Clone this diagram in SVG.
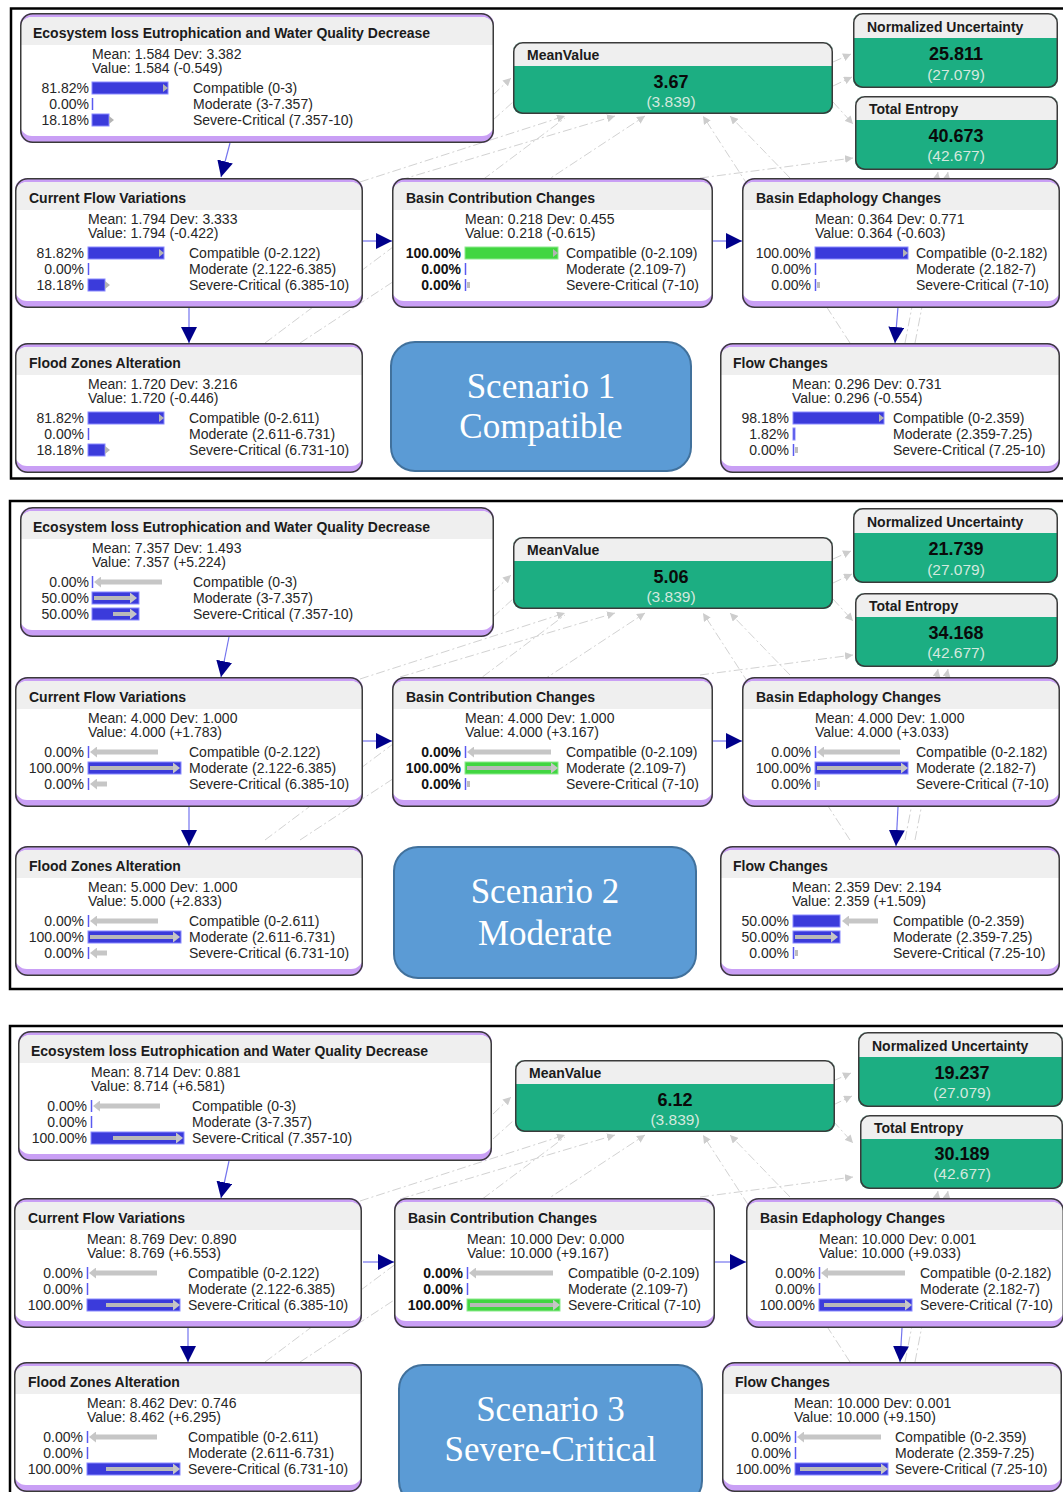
<svg xmlns="http://www.w3.org/2000/svg" xmlns:xlink="http://www.w3.org/1999/xlink" width="1063" height="1492" viewBox="0 0 1063 1492">
<style>
.t{font:bold 14px "Liberation Sans",Arial,sans-serif;fill:#1b1b1b}
.b{font:14px "Liberation Sans",Arial,sans-serif;fill:#262626}
.p{font:14px "Liberation Sans",Arial,sans-serif;fill:#262626;text-anchor:end}
.pb{font:bold 14px "Liberation Sans",Arial,sans-serif;fill:#111;text-anchor:end}
.v{font:bold 18px "Liberation Sans",Arial,sans-serif;fill:#0a0a0a;text-anchor:middle}
.pv{font:15.5px "Liberation Sans",Arial,sans-serif;fill:#d4e9df;text-anchor:middle}
.sc{font:35px "Liberation Serif","Times New Roman",serif;fill:#fff;text-anchor:middle}
.lv{fill:#c99ff5}
.hd{fill:#efefef}
.wh{fill:#fff}
.ol{fill:none;stroke:#3a3a3a;stroke-width:1.5}
.gn{fill:#1cae82}
.bb{fill:#3b3bdb;stroke:#8a8aff;stroke-width:1}
.gb{fill:#41d641;stroke:#8eea8e;stroke-width:1}
.z{stroke:#5a5af0;stroke-width:1.5}
.ga{stroke:#c6c6c6;stroke-width:5;marker-end:url(#gh)}
.gi{stroke:#b9b9b9;stroke-width:4;marker-end:url(#gh)}
.gm{fill:#b4b4b4}
.tk{fill:#bdbdbd}
.bg{fill:none;stroke:#d2d2d2;stroke-width:1;stroke-dasharray:9 3 2 3;marker-end:url(#sh)}
.bl{fill:none;stroke:#7474ee;stroke-width:1.2;marker-end:url(#ah)}
.fr{fill:none;stroke:#000;stroke-width:2.5}
.scb{fill:#5b9bd5;stroke:#41719c;stroke-width:2}
</style>
<defs>
<marker id="ah" markerUnits="userSpaceOnUse" markerWidth="16" markerHeight="16" refX="16" refY="8" orient="auto"><path d="M0,0 L16,8 L0,16 Z" fill="#00008b"/></marker>
<marker id="gh" markerUnits="userSpaceOnUse" markerWidth="7" markerHeight="11" refX="0" refY="5.5" orient="auto"><path d="M0,0 L7,5.5 L0,11 Z" fill="#c6c6c6"/></marker>
<marker id="sh" markerUnits="userSpaceOnUse" markerWidth="8" markerHeight="8" refX="8" refY="4" orient="auto"><path d="M0,0 L8,4 L0,8 Z" fill="#cdcdcd"/></marker>
<g id="fEco"><rect width="474" height="130" rx="12" class="lv"/><rect y="4" width="474" height="119" rx="12" class="wh"/><path d="M0,16 A12,12 0 0 1 12,4 H462 A12,12 0 0 1 474,16 V32 H0 Z" class="hd"/><rect x="0.75" y="0.75" width="472.5" height="128.5" rx="12" class="ol"/></g>
<g id="fCF"><rect width="348" height="130" rx="12" class="lv"/><rect y="4" width="348" height="119" rx="12" class="wh"/><path d="M0,16 A12,12 0 0 1 12,4 H336 A12,12 0 0 1 348,16 V32 H0 Z" class="hd"/><rect x="0.75" y="0.75" width="346.5" height="128.5" rx="12" class="ol"/></g>
<g id="fBC"><rect width="321" height="130" rx="12" class="lv"/><rect y="4" width="321" height="119" rx="12" class="wh"/><path d="M0,16 A12,12 0 0 1 12,4 H309 A12,12 0 0 1 321,16 V32 H0 Z" class="hd"/><rect x="0.75" y="0.75" width="319.5" height="128.5" rx="12" class="ol"/></g>
<g id="fBE"><rect width="318" height="130" rx="12" class="lv"/><rect y="4" width="318" height="119" rx="12" class="wh"/><path d="M0,16 A12,12 0 0 1 12,4 H306 A12,12 0 0 1 318,16 V32 H0 Z" class="hd"/><rect x="0.75" y="0.75" width="316.5" height="128.5" rx="12" class="ol"/></g>
<g id="fFC"><rect width="340" height="130" rx="12" class="lv"/><rect y="4" width="340" height="119" rx="12" class="wh"/><path d="M0,16 A12,12 0 0 1 12,4 H328 A12,12 0 0 1 340,16 V32 H0 Z" class="hd"/><rect x="0.75" y="0.75" width="338.5" height="128.5" rx="12" class="ol"/></g>
<g id="fMV"><rect width="320" height="72" rx="9" class="gn"/><path d="M0,9 A9,9 0 0 1 9,0 H311 A9,9 0 0 1 320,9 V24 H0 Z" class="hd"/><rect x="0.75" y="0.75" width="318.5" height="70.5" rx="9" class="ol"/></g>
<g id="fNU"><rect width="205" height="75" rx="9" class="gn"/><path d="M0,9 A9,9 0 0 1 9,0 H196 A9,9 0 0 1 205,9 V25 H0 Z" class="hd"/><rect x="0.75" y="0.75" width="203.5" height="73.5" rx="9" class="ol"/></g>
<g id="fTE"><rect width="203" height="74" rx="9" class="gn"/><path d="M0,9 A9,9 0 0 1 9,0 H194 A9,9 0 0 1 203,9 V24 H0 Z" class="hd"/><rect x="0.75" y="0.75" width="201.5" height="72.5" rx="9" class="ol"/></g>
<g id="bgset">
<path class="bg" d="M493,95 L511,78"/>
<path class="bg" d="M493,120 L513,102" style="marker-end:none"/>
<path class="bg" d="M360,182 L565,116"/>
<path class="bg" d="M400,180 L615,116"/>
<path class="bg" d="M300,343 L645,116"/>
<path class="bg" d="M265,343 L565,118" style="marker-end:none"/>
<path class="bg" d="M790,178 L730,116"/>
<path class="bg" d="M850,343 L703,116"/>
<path class="bg" d="M833,62 L851,54"/>
<path class="bg" d="M833,86 L852,77"/>
<path class="bg" d="M833,102 L853,124"/>
<path class="bg" d="M700,178 L853,158"/>
<path class="bg" d="M905,343 L938,172"/>
<path class="bg" d="M915,343 L948,172"/>
</g>
</defs>

<g id="frames">
<rect class="fr" x="11" y="8.5" width="1070" height="470"/>
<rect class="fr" x="10" y="501" width="1070" height="488"/>
<rect class="fr" x="10" y="1026" width="1070" height="480"/>
</g>

<g id="connectors">
<use href="#bgset"/>
<use href="#bgset" transform="translate(0,497)"/>
<use href="#bgset" transform="translate(0,1019)"/>
<path class="bl" d="M230,143 L221,177"/>
<path class="bl" d="M363,241 L392,241"/>
<path class="bl" d="M713,241 L742,241"/>
<path class="bl" d="M189,307 L189,343"/>
<path class="bl" d="M898,307 L895,343"/>
<path class="bl" d="M229,637 L221,677"/>
<path class="bl" d="M363,741 L392,741"/>
<path class="bl" d="M713,741 L742,741"/>
<path class="bl" d="M189,807 L189,846"/>
<path class="bl" d="M898,807 L896,846"/>
<path class="bl" d="M229,1161 L221,1198"/>
<path class="bl" d="M363,1262 L394,1262"/>
<path class="bl" d="M715,1262 L746,1262"/>
<path class="bl" d="M188,1328 L188,1362"/>
<path class="bl" d="M902,1328 L900,1362"/>
</g>

<!-- ============ SCENARIO 1 ============ -->
<g id="p1-eco" transform="translate(20,13)">
<use href="#fEco"/>
<text class="t" x="13" y="25">Ecosystem loss Eutrophication and Water Quality Decrease</text>
<text class="b" x="72" y="46">Mean: 1.584 Dev: 3.382</text>
<text class="b" x="72" y="60">Value: 1.584 (-0.549)</text>
<text class="p" x="69" y="80">81.82%</text><rect class="bb" x="72" y="69" width="76" height="12"/><path class="gm" d="M143,71 L148,75 L143,79Z"/>
<text class="b" x="173" y="80">Compatible (0-3)</text>
<text class="p" x="69" y="96">0.00%</text><line class="z" x1="72.5" y1="85" x2="72.5" y2="97"/>
<text class="b" x="173" y="96">Moderate (3-7.357)</text>
<text class="p" x="69" y="112">18.18%</text><rect class="bb" x="72" y="101" width="17" height="12"/><path class="gm" d="M89,103 L94,107 L89,111Z"/>
<text class="b" x="173" y="112">Severe-Critical (7.357-10)</text>
</g>
<g id="p1-mean" transform="translate(513,42)"><use href="#fMV"/><text class="t" x="14" y="18">MeanValue</text><text class="v" x="158" y="46">3.67</text><text class="pv" x="158" y="65">(3.839)</text></g>
<g id="p1-nu" transform="translate(853,13)"><use href="#fNU"/><text class="t" x="14" y="19">Normalized Uncertainty</text><text class="v" x="103" y="47">25.811</text><text class="pv" x="103" y="67">(27.079)</text></g>
<g id="p1-te" transform="translate(855,96)"><use href="#fTE"/><text class="t" x="14" y="18">Total Entropy</text><text class="v" x="101" y="46">40.673</text><text class="pv" x="101" y="65">(42.677)</text></g>
<g id="p1-cf" transform="translate(15,178)">
<use href="#fCF"/>
<text class="t" x="14" y="25">Current Flow Variations</text>
<text class="b" x="73" y="46">Mean: 1.794 Dev: 3.333</text>
<text class="b" x="73" y="60">Value: 1.794 (-0.422)</text>
<text class="p" x="69" y="80">81.82%</text><rect class="bb" x="73" y="69" width="76" height="12"/><path class="gm" d="M144,71 L149,75 L144,79Z"/>
<text class="b" x="174" y="80">Compatible (0-2.122)</text>
<text class="p" x="69" y="96">0.00%</text><line class="z" x1="73.5" y1="85" x2="73.5" y2="97"/>
<text class="b" x="174" y="96">Moderate (2.122-6.385)</text>
<text class="p" x="69" y="112">18.18%</text><rect class="bb" x="73" y="101" width="17" height="12"/><path class="gm" d="M90,103 L95,107 L90,111Z"/>
<text class="b" x="174" y="112">Severe-Critical (6.385-10)</text>
</g>
<g id="p1-bc" transform="translate(392,178)">
<use href="#fBC"/>
<text class="t" x="14" y="25">Basin Contribution Changes</text>
<text class="b" x="73" y="46">Mean: 0.218 Dev: 0.455</text>
<text class="b" x="73" y="60">Value: 0.218 (-0.615)</text>
<text class="pb" x="69" y="80">100.00%</text><rect class="gb" x="73" y="69" width="93" height="12"/><path class="gm" d="M161,71 L166,75 L161,79Z"/>
<text class="b" x="174" y="80">Compatible (0-2.109)</text>
<text class="pb" x="69" y="96">0.00%</text><line class="z" x1="73.5" y1="85" x2="73.5" y2="97"/>
<text class="b" x="174" y="96">Moderate (2.109-7)</text>
<text class="pb" x="69" y="112">0.00%</text><line class="z" x1="73.5" y1="101" x2="73.5" y2="113"/><rect class="tk" x="75" y="104" width="3" height="6"/>
<text class="b" x="174" y="112">Severe-Critical (7-10)</text>
</g>
<g id="p1-be" transform="translate(742,178)">
<use href="#fBE"/>
<text class="t" x="14" y="25">Basin Edaphology Changes</text>
<text class="b" x="73" y="46">Mean: 0.364 Dev: 0.771</text>
<text class="b" x="73" y="60">Value: 0.364 (-0.603)</text>
<text class="p" x="69" y="80">100.00%</text><rect class="bb" x="73" y="69" width="93" height="12"/><path class="gm" d="M161,71 L166,75 L161,79Z"/>
<text class="b" x="174" y="80">Compatible (0-2.182)</text>
<text class="p" x="69" y="96">0.00%</text><line class="z" x1="73.5" y1="85" x2="73.5" y2="97"/>
<text class="b" x="174" y="96">Moderate (2.182-7)</text>
<text class="p" x="69" y="112">0.00%</text><line class="z" x1="73.5" y1="101" x2="73.5" y2="113"/><rect class="tk" x="75" y="104" width="3" height="6"/>
<text class="b" x="174" y="112">Severe-Critical (7-10)</text>
</g>
<g id="p1-fz" transform="translate(15,343)">
<use href="#fCF"/>
<text class="t" x="14" y="25">Flood Zones Alteration</text>
<text class="b" x="73" y="46">Mean: 1.720 Dev: 3.216</text>
<text class="b" x="73" y="60">Value: 1.720 (-0.446)</text>
<text class="p" x="69" y="80">81.82%</text><rect class="bb" x="73" y="69" width="76" height="12"/><path class="gm" d="M144,71 L149,75 L144,79Z"/>
<text class="b" x="174" y="80">Compatible (0-2.611)</text>
<text class="p" x="69" y="96">0.00%</text><line class="z" x1="73.5" y1="85" x2="73.5" y2="97"/>
<text class="b" x="174" y="96">Moderate (2.611-6.731)</text>
<text class="p" x="69" y="112">18.18%</text><rect class="bb" x="73" y="101" width="17" height="12"/><path class="gm" d="M90,103 L95,107 L90,111Z"/>
<text class="b" x="174" y="112">Severe-Critical (6.731-10)</text>
</g>
<g id="p1-scenario" transform="translate(390,341)">
<rect class="scb" x="1" y="1" width="300" height="129" rx="24"/>
<text class="sc" x="151" y="57">Scenario 1</text>
<text class="sc" x="151" y="97">Compatible</text>
</g>
<g id="p1-fc" transform="translate(720,343)">
<use href="#fFC"/>
<text class="t" x="13" y="25">Flow Changes</text>
<text class="b" x="72" y="46">Mean: 0.296 Dev: 0.731</text>
<text class="b" x="72" y="60">Value: 0.296 (-0.554)</text>
<text class="p" x="69" y="80">98.18%</text><rect class="bb" x="73" y="69" width="91" height="12"/><path class="gm" d="M159,71 L164,75 L159,79Z"/>
<text class="b" x="173" y="80">Compatible (0-2.359)</text>
<text class="p" x="69" y="96">1.82%</text><rect class="bb" x="73" y="85" width="2" height="12"/>
<text class="b" x="173" y="96">Moderate (2.359-7.25)</text>
<text class="p" x="69" y="112">0.00%</text><line class="z" x1="73.5" y1="101" x2="73.5" y2="113"/><rect class="tk" x="75" y="104" width="3" height="6"/>
<text class="b" x="173" y="112">Severe-Critical (7.25-10)</text>
</g>

<!-- ============ SCENARIO 2 ============ -->
<g id="p2-eco" transform="translate(20,507)">
<use href="#fEco"/>
<text class="t" x="13" y="25">Ecosystem loss Eutrophication and Water Quality Decrease</text>
<text class="b" x="72" y="46">Mean: 7.357 Dev: 1.493</text>
<text class="b" x="72" y="60">Value: 7.357 (+5.224)</text>
<text class="p" x="69" y="80">0.00%</text><line class="z" x1="72.5" y1="69" x2="72.5" y2="81"/><line class="ga" x1="142" y1="75" x2="81" y2="75"/>
<text class="b" x="173" y="80">Compatible (0-3)</text>
<text class="p" x="69" y="96">50.00%</text><rect class="bb" x="72" y="85" width="47" height="12"/><line class="gi" x1="74" y1="91" x2="110" y2="91"/>
<text class="b" x="173" y="96">Moderate (3-7.357)</text>
<text class="p" x="69" y="112">50.00%</text><rect class="bb" x="72" y="101" width="47" height="12"/><line class="gi" x1="93" y1="107" x2="110" y2="107"/>
<text class="b" x="173" y="112">Severe-Critical (7.357-10)</text>
</g>
<g id="p2-mean" transform="translate(513,537)"><use href="#fMV"/><text class="t" x="14" y="18">MeanValue</text><text class="v" x="158" y="46">5.06</text><text class="pv" x="158" y="65">(3.839)</text></g>
<g id="p2-nu" transform="translate(853,508)"><use href="#fNU"/><text class="t" x="14" y="19">Normalized Uncertainty</text><text class="v" x="103" y="47">21.739</text><text class="pv" x="103" y="67">(27.079)</text></g>
<g id="p2-te" transform="translate(855,593)"><use href="#fTE"/><text class="t" x="14" y="18">Total Entropy</text><text class="v" x="101" y="46">34.168</text><text class="pv" x="101" y="65">(42.677)</text></g>
<g id="p2-cf" transform="translate(15,677)">
<use href="#fCF"/>
<text class="t" x="14" y="25">Current Flow Variations</text>
<text class="b" x="73" y="46">Mean: 4.000 Dev: 1.000</text>
<text class="b" x="73" y="60">Value: 4.000 (+1.783)</text>
<text class="p" x="69" y="80">0.00%</text><line class="z" x1="73.5" y1="69" x2="73.5" y2="81"/><line class="ga" x1="143" y1="75" x2="82" y2="75"/>
<text class="b" x="174" y="80">Compatible (0-2.122)</text>
<text class="p" x="69" y="96">100.00%</text><rect class="bb" x="73" y="85" width="93" height="12"/><line class="gi" x1="75" y1="91" x2="158" y2="91"/>
<text class="b" x="174" y="96">Moderate (2.122-6.385)</text>
<text class="p" x="69" y="112">0.00%</text><line class="z" x1="73.5" y1="101" x2="73.5" y2="113"/><line class="ga" x1="92" y1="107" x2="82" y2="107"/>
<text class="b" x="174" y="112">Severe-Critical (6.385-10)</text>
</g>
<g id="p2-bc" transform="translate(392,677)">
<use href="#fBC"/>
<text class="t" x="14" y="25">Basin Contribution Changes</text>
<text class="b" x="73" y="46">Mean: 4.000 Dev: 1.000</text>
<text class="b" x="73" y="60">Value: 4.000 (+3.167)</text>
<text class="pb" x="69" y="80">0.00%</text><line class="z" x1="73.5" y1="69" x2="73.5" y2="81"/><line class="ga" x1="159" y1="75" x2="82" y2="75"/>
<text class="b" x="174" y="80">Compatible (0-2.109)</text>
<text class="pb" x="69" y="96">100.00%</text><rect class="gb" x="73" y="85" width="93" height="12"/><line class="gi" x1="75" y1="91" x2="159" y2="91"/>
<text class="b" x="174" y="96">Moderate (2.109-7)</text>
<text class="pb" x="69" y="112">0.00%</text><line class="z" x1="73.5" y1="101" x2="73.5" y2="113"/><rect class="tk" x="75" y="104" width="3" height="6"/>
<text class="b" x="174" y="112">Severe-Critical (7-10)</text>
</g>
<g id="p2-be" transform="translate(742,677)">
<use href="#fBE"/>
<text class="t" x="14" y="25">Basin Edaphology Changes</text>
<text class="b" x="73" y="46">Mean: 4.000 Dev: 1.000</text>
<text class="b" x="73" y="60">Value: 4.000 (+3.033)</text>
<text class="p" x="69" y="80">0.00%</text><line class="z" x1="73.5" y1="69" x2="73.5" y2="81"/><line class="ga" x1="158" y1="75" x2="82" y2="75"/>
<text class="b" x="174" y="80">Compatible (0-2.182)</text>
<text class="p" x="69" y="96">100.00%</text><rect class="bb" x="73" y="85" width="93" height="12"/><line class="gi" x1="75" y1="91" x2="159" y2="91"/>
<text class="b" x="174" y="96">Moderate (2.182-7)</text>
<text class="p" x="69" y="112">0.00%</text><line class="z" x1="73.5" y1="101" x2="73.5" y2="113"/><rect class="tk" x="75" y="104" width="3" height="6"/>
<text class="b" x="174" y="112">Severe-Critical (7-10)</text>
</g>
<g id="p2-fz" transform="translate(15,846)">
<use href="#fCF"/>
<text class="t" x="14" y="25">Flood Zones Alteration</text>
<text class="b" x="73" y="46">Mean: 5.000 Dev: 1.000</text>
<text class="b" x="73" y="60">Value: 5.000 (+2.833)</text>
<text class="p" x="69" y="80">0.00%</text><line class="z" x1="73.5" y1="69" x2="73.5" y2="81"/><line class="ga" x1="143" y1="75" x2="82" y2="75"/>
<text class="b" x="174" y="80">Compatible (0-2.611)</text>
<text class="p" x="69" y="96">100.00%</text><rect class="bb" x="73" y="85" width="93" height="12"/><line class="gi" x1="75" y1="91" x2="158" y2="91"/>
<text class="b" x="174" y="96">Moderate (2.611-6.731)</text>
<text class="p" x="69" y="112">0.00%</text><line class="z" x1="73.5" y1="101" x2="73.5" y2="113"/><line class="ga" x1="92" y1="107" x2="82" y2="107"/>
<text class="b" x="174" y="112">Severe-Critical (6.731-10)</text>
</g>
<g id="p2-scenario" transform="translate(393,846)">
<rect class="scb" x="1" y="1" width="302" height="131" rx="24"/>
<text class="sc" x="152" y="57">Scenario 2</text>
<text class="sc" x="152" y="99">Moderate</text>
</g>
<g id="p2-fc" transform="translate(720,846)">
<use href="#fFC"/>
<text class="t" x="13" y="25">Flow Changes</text>
<text class="b" x="72" y="46">Mean: 2.359 Dev: 2.194</text>
<text class="b" x="72" y="60">Value: 2.359 (+1.509)</text>
<text class="p" x="69" y="80">50.00%</text><rect class="bb" x="73" y="69" width="47" height="12"/><line class="ga" x1="158" y1="75" x2="129" y2="75"/>
<text class="b" x="173" y="80">Compatible (0-2.359)</text>
<text class="p" x="69" y="96">50.00%</text><rect class="bb" x="73" y="85" width="47" height="12"/><line class="gi" x1="75" y1="91" x2="111" y2="91"/>
<text class="b" x="173" y="96">Moderate (2.359-7.25)</text>
<text class="p" x="69" y="112">0.00%</text><line class="z" x1="73.5" y1="101" x2="73.5" y2="113"/><rect class="tk" x="75" y="104" width="3" height="6"/>
<text class="b" x="173" y="112">Severe-Critical (7.25-10)</text>
</g>

<!-- ============ SCENARIO 3 ============ -->
<g id="p3-eco" transform="translate(18,1031)">
<use href="#fEco"/>
<text class="t" x="13" y="25">Ecosystem loss Eutrophication and Water Quality Decrease</text>
<text class="b" x="73" y="46">Mean: 8.714 Dev: 0.881</text>
<text class="b" x="73" y="60">Value: 8.714 (+6.581)</text>
<text class="p" x="69" y="80">0.00%</text><line class="z" x1="73.5" y1="69" x2="73.5" y2="81"/><line class="ga" x1="142" y1="75" x2="82" y2="75"/>
<text class="b" x="174" y="80">Compatible (0-3)</text>
<text class="p" x="69" y="96">0.00%</text><line class="z" x1="73.5" y1="85" x2="73.5" y2="97"/>
<text class="b" x="174" y="96">Moderate (3-7.357)</text>
<text class="p" x="69" y="112">100.00%</text><rect class="bb" x="73" y="101" width="93" height="12"/><line class="gi" x1="95" y1="107" x2="158" y2="107"/>
<text class="b" x="174" y="112">Severe-Critical (7.357-10)</text>
</g>
<g id="p3-mean" transform="translate(515,1060)"><use href="#fMV"/><text class="t" x="14" y="18">MeanValue</text><text class="v" x="160" y="46">6.12</text><text class="pv" x="160" y="65">(3.839)</text></g>
<g id="p3-nu" transform="translate(858,1032)"><use href="#fNU"/><text class="t" x="14" y="19">Normalized Uncertainty</text><text class="v" x="104" y="47">19.237</text><text class="pv" x="104" y="66">(27.079)</text></g>
<g id="p3-te" transform="translate(860,1115)"><use href="#fTE"/><text class="t" x="14" y="18">Total Entropy</text><text class="v" x="102" y="45">30.189</text><text class="pv" x="102" y="64">(42.677)</text></g>
<g id="p3-cf" transform="translate(14,1198)">
<use href="#fCF"/>
<text class="t" x="14" y="25">Current Flow Variations</text>
<text class="b" x="73" y="46">Mean: 8.769 Dev: 0.890</text>
<text class="b" x="73" y="60">Value: 8.769 (+6.553)</text>
<text class="p" x="69" y="80">0.00%</text><line class="z" x1="73.5" y1="69" x2="73.5" y2="81"/><line class="ga" x1="143" y1="75" x2="82" y2="75"/>
<text class="b" x="174" y="80">Compatible (0-2.122)</text>
<text class="p" x="69" y="96">0.00%</text><line class="z" x1="73.5" y1="85" x2="73.5" y2="97"/>
<text class="b" x="174" y="96">Moderate (2.122-6.385)</text>
<text class="p" x="69" y="112">100.00%</text><rect class="bb" x="73" y="101" width="93" height="12"/><line class="gi" x1="92" y1="107" x2="159" y2="107"/>
<text class="b" x="174" y="112">Severe-Critical (6.385-10)</text>
</g>
<g id="p3-bc" transform="translate(394,1198)">
<use href="#fBC"/>
<text class="t" x="14" y="25">Basin Contribution Changes</text>
<text class="b" x="73" y="46">Mean: 10.000 Dev: 0.000</text>
<text class="b" x="73" y="60">Value: 10.000 (+9.167)</text>
<text class="pb" x="69" y="80">0.00%</text><line class="z" x1="73.5" y1="69" x2="73.5" y2="81"/><line class="ga" x1="159" y1="75" x2="82" y2="75"/>
<text class="b" x="174" y="80">Compatible (0-2.109)</text>
<text class="pb" x="69" y="96">0.00%</text><line class="z" x1="73.5" y1="85" x2="73.5" y2="97"/>
<text class="b" x="174" y="96">Moderate (2.109-7)</text>
<text class="pb" x="69" y="112">100.00%</text><rect class="gb" x="73" y="101" width="93" height="12"/><line class="gi" x1="76" y1="107" x2="159" y2="107"/>
<text class="b" x="174" y="112">Severe-Critical (7-10)</text>
</g>
<g id="p3-be" transform="translate(746,1198)">
<use href="#fBE"/>
<text class="t" x="14" y="25">Basin Edaphology Changes</text>
<text class="b" x="73" y="46">Mean: 10.000 Dev: 0.001</text>
<text class="b" x="73" y="60">Value: 10.000 (+9.033)</text>
<text class="p" x="69" y="80">0.00%</text><line class="z" x1="73.5" y1="69" x2="73.5" y2="81"/><line class="ga" x1="159" y1="75" x2="82" y2="75"/>
<text class="b" x="174" y="80">Compatible (0-2.182)</text>
<text class="p" x="69" y="96">0.00%</text><line class="z" x1="73.5" y1="85" x2="73.5" y2="97"/>
<text class="b" x="174" y="96">Moderate (2.182-7)</text>
<text class="p" x="69" y="112">100.00%</text><rect class="bb" x="73" y="101" width="93" height="12"/><line class="gi" x1="78" y1="107" x2="159" y2="107"/>
<text class="b" x="174" y="112">Severe-Critical (7-10)</text>
</g>
<g id="p3-fz" transform="translate(14,1362)">
<use href="#fCF"/>
<text class="t" x="14" y="25">Flood Zones Alteration</text>
<text class="b" x="73" y="46">Mean: 8.462 Dev: 0.746</text>
<text class="b" x="73" y="60">Value: 8.462 (+6.295)</text>
<text class="p" x="69" y="80">0.00%</text><line class="z" x1="73.5" y1="69" x2="73.5" y2="81"/><line class="ga" x1="143" y1="75" x2="82" y2="75"/>
<text class="b" x="174" y="80">Compatible (0-2.611)</text>
<text class="p" x="69" y="96">0.00%</text><line class="z" x1="73.5" y1="85" x2="73.5" y2="97"/>
<text class="b" x="174" y="96">Moderate (2.611-6.731)</text>
<text class="p" x="69" y="112">100.00%</text><rect class="bb" x="73" y="101" width="93" height="12"/><line class="gi" x1="92" y1="107" x2="159" y2="107"/>
<text class="b" x="174" y="112">Severe-Critical (6.731-10)</text>
</g>
<g id="p3-scenario" transform="translate(398,1364)">
<rect class="scb" x="1" y="1" width="303" height="140" rx="24"/>
<text class="sc" x="152.5" y="57">Scenario 3</text>
<text class="sc" x="152.5" y="97">Severe-Critical</text>
</g>
<g id="p3-fc" transform="translate(722,1362)">
<use href="#fFC"/>
<text class="t" x="13" y="25">Flow Changes</text>
<text class="b" x="72" y="46">Mean: 10.000 Dev: 0.001</text>
<text class="b" x="72" y="60">Value: 10.000 (+9.150)</text>
<text class="p" x="69" y="80">0.00%</text><line class="z" x1="73.5" y1="69" x2="73.5" y2="81"/><line class="ga" x1="159" y1="75" x2="82" y2="75"/>
<text class="b" x="173" y="80">Compatible (0-2.359)</text>
<text class="p" x="69" y="96">0.00%</text><line class="z" x1="73.5" y1="85" x2="73.5" y2="97"/>
<text class="b" x="173" y="96">Moderate (2.359-7.25)</text>
<text class="p" x="69" y="112">100.00%</text><rect class="bb" x="73" y="101" width="93" height="12"/><line class="gi" x1="78" y1="107" x2="159" y2="107"/>
<text class="b" x="173" y="112">Severe-Critical (7.25-10)</text>
</g>
</svg>
